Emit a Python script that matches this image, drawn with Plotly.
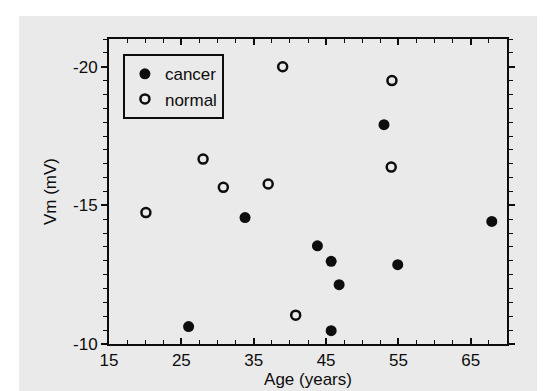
import plotly.graph_objects as go

cancer_age = [26.0, 33.8, 43.8, 45.7, 46.8, 45.7, 53.0, 54.9, 67.9]
cancer_vm = [-10.63, -14.56, -13.54, -12.98, -12.14, -10.48, -17.91, -12.86, -14.42]

normal_age = [20.1, 28.0, 30.8, 37.0, 39.0, 40.8, 54.1, 54.0]
normal_vm = [-14.74, -16.67, -15.65, -15.77, -20.0, -11.04, -19.50, -16.38]

x_ticks = [15, 25, 35, 45, 55, 65]
y_ticks = [-20, -15, -10]

FONT = "Liberation Sans, Arial, Helvetica, sans-serif"
BG = "#eaeaea"
INK = "#0d0d0d"

fig = go.Figure()
fig.add_trace(go.Scatter(
    x=cancer_age, y=cancer_vm, mode="markers", name="cancer",
    marker=dict(symbol="circle", size=11, color=INK, line=dict(width=0)),
))
fig.add_trace(go.Scatter(
    x=normal_age, y=normal_vm, mode="markers", name="normal",
    marker=dict(symbol="circle-open", size=9, color=INK,
                line=dict(width=2.5)),
))

L, R, T, B = 101, 45.5, 31, 54.5
W, H = 545, 391
pw = W - L - R
ph = H - T - B

fig.add_shape(type="rect", xref="paper", yref="paper", layer="below",
              x0=(11 - L) / pw, x1=(536 - L) / pw,
              y0=(H - B - 391) / ph - 0.01, y1=(H - B - 8) / ph,
              fillcolor=BG, line=dict(width=0))

fig.update_layout(
    width=W, height=H,
    margin=dict(l=L, r=R, t=T, b=B, pad=0),
    paper_bgcolor="white",
    plot_bgcolor="rgba(0,0,0,0)",
    font=dict(family=FONT, size=17, color=INK),
    showlegend=True,
    legend=dict(
        x=0.035, y=0.95, xanchor="left", yanchor="top",
        bgcolor="rgba(0,0,0,0)", bordercolor=INK, borderwidth=2,
        font=dict(size=17, family=FONT, color=INK),
        itemwidth=30, tracegroupgap=0,
    ),
    xaxis=dict(
        range=[15, 70], tickmode="array", tickvals=x_ticks,
        ticktext=[str(v) for v in x_ticks],
        ticks="inside", ticklen=6, tickwidth=1.5, tickcolor=INK,
        minor=dict(dtick=2.5, tick0=15, ticks="inside", ticklen=4,
                   tickwidth=1.2, tickcolor=INK, showgrid=False),
        showline=True, linecolor=INK, linewidth=2, mirror="ticks",
        showgrid=False, zeroline=False,
        title=dict(text="Age (years)", standoff=4,
                   font=dict(size=17, family=FONT, color=INK)),
        tickfont=dict(size=17, family=FONT, color=INK),
    ),
    yaxis=dict(
        range=[-10, -21], tickmode="array", tickvals=y_ticks,
        ticktext=[str(v) for v in y_ticks],
        ticks="outside", ticklen=6, tickwidth=1.5, tickcolor=INK,
        minor=dict(dtick=0.5, tick0=-10, ticks="outside", ticklen=4,
                   tickwidth=1.2, tickcolor=INK, showgrid=False),
        showline=True, linecolor=INK, linewidth=2, mirror="ticks",
        showgrid=False, zeroline=False,
        title=dict(text="Vm (mV)", standoff=12,
                   font=dict(size=17, family=FONT, color=INK)),
        tickfont=dict(size=17, family=FONT, color=INK),
    ),
)

fig.write_html("out.html")
